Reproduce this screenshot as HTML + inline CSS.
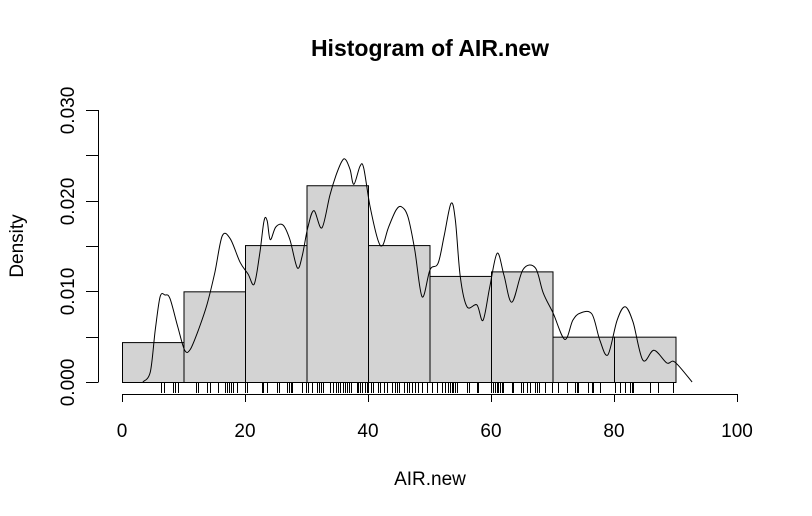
<!DOCTYPE html>
<html><head><meta charset="utf-8"><style>
html,body{margin:0;padding:0;background:#fff}
svg{display:block;font-family:"Liberation Sans",Arial,sans-serif}
</style></head><body>
<svg id="chart" width="812" height="516" viewBox="0 0 812 516">
<text x="430" y="56" text-anchor="middle" font-size="23" font-weight="bold">Histogram of AIR.new</text>
<text x="430" y="485" text-anchor="middle" font-size="19">AIR.new</text>
<text transform="translate(23,246) rotate(-90)" text-anchor="middle" font-size="19">Density</text>
<g id="bars"></g>
<g id="rug"></g>
<path id="dens" fill="none" stroke="#000" stroke-width="1"></path>
<g id="axes"></g>
</svg>
<script>
const binEdges=[0,10,20,30,40,50,60,70,80,90];
const binDensity=[0.0044,0.0100,0.0151,0.0217,0.0151,0.0117,0.0122,0.0050,0.0050];
const xTicks=[0,20,40,60,80,100];
const yTicks=[0,0.005,0.010,0.015,0.020,0.025,0.030];
const yTickLabels=["0.000","","0.010","","0.020","","0.030"];
const densX=[3.4,4.6,5.4,6.2,7.0,7.8,9.1,10.2,11.1,12.4,13.8,15.1,16.3,17.6,19.2,20.5,21.5,22.4,23.1,23.6,24.1,25.0,26.2,27.3,28.5,29.3,30.2,31.2,32.5,33.8,34.8,35.8,36.4,37.1,37.7,38.7,39.3,40.3,41.6,42.4,43.3,44.6,45.5,46.5,47.6,48.8,50.1,51.4,52.4,53.5,54.2,55.0,56.1,57.7,58.7,59.8,61.0,62.1,63.4,65.2,67.2,68.5,70.1,72.0,73.3,74.5,76.4,77.7,79.0,80.5,81.8,83.1,84.7,86.5,88.6,89.9,92.7];
const densY=[0,.0011,.0057,.0094,.0096,.0092,.0060,.0035,.0036,.0057,.0085,.0121,.0161,.0158,.0132,.0119,.0108,.0142,.0178,.0178,.0157,.0171,.0173,.0157,.0126,.0139,.0170,.0189,.0170,.0206,.0228,.0244,.0245,.0234,.0218,.0238,.0236,.0195,.0157,.0151,.0170,.0190,.0193,.0182,.0146,.0094,.0124,.0131,.0162,.0197,.0179,.0116,.0083,.0085,.0068,.0105,.0142,.0118,.0088,.0124,.0126,.0098,.0076,.0047,.0068,.0076,.0075,.0046,.0030,.0068,.0083,.0066,.0024,.0035,.0021,.0022,0];
const rugX=[6.3,6.8,8.3,8.6,9.1,12.0,12.4,13.8,14.3,15.6,16.7,17.1,17.4,17.7,18.0,18.7,20.0,20.3,22.8,22.9,23.6,25.2,25.5,26.8,27.2,27.5,27.6,29.3,29.9,30.2,30.9,31.7,32.0,32.4,32.7,33.8,34.3,34.8,35.1,35.4,35.9,36.3,36.6,36.9,37.2,38.2,38.4,38.7,39.0,39.5,39.8,40.0,40.5,40.8,41.6,42.0,42.6,43.1,43.9,44.4,44.7,45.0,45.9,46.3,46.7,47.2,47.6,48.1,48.8,49.6,50.4,51.2,52.0,52.5,53.0,53.3,53.7,53.8,54.1,54.5,56.1,56.4,57.7,57.9,60.0,60.3,60.7,61.0,61.1,61.5,61.8,62.0,63.4,63.6,64.9,65.2,65.9,66.3,67.2,67.5,67.8,68.8,69.9,70.9,72.4,73.7,74.0,74.1,75.8,76.4,76.6,77.7,80.2,81.0,81.8,82.6,82.9,83.1,85.9,87.2,89.6];

const NS="http://www.w3.org/2000/svg";
const sx=v=>122+v*6.15;
const sy=v=>382-v*9067;
function mk(tag,parent,attrs){const e=document.createElementNS(NS,tag);for(const k in attrs)e.setAttribute(k,attrs[k]);parent.appendChild(e);return e;}
const bars=document.getElementById('bars');
binDensity.forEach((d,i)=>{
  const r=mk('rect',bars,{x:sx(binEdges[i])+0.5,y:sy(d)+0.5,width:sx(binEdges[i+1])-sx(binEdges[i]),height:sy(0)-sy(d),fill:'#d3d3d3',stroke:'#000','stroke-width':1});
  
  
});
const rug=document.getElementById('rug');
rugX.forEach(v=>{
  const l=mk('line',rug,{x1:Math.round(sx(v))+0.5,x2:Math.round(sx(v))+0.5,y1:383,y2:393,stroke:'#000','stroke-width':1});
  
  
});
// smooth Catmull-Rom path through density points
const P=densX.map((x,i)=>[sx(x),sy(densY[i])]);
let d='M'+P[0][0].toFixed(1)+','+P[0][1].toFixed(1);
for(let i=0;i<P.length-1;i++){
  const p0=P[Math.max(0,i-1)],p1=P[i],p2=P[i+1],p3=P[Math.min(P.length-1,i+2)];
  const c1=[p1[0]+(p2[0]-p0[0])/6,p1[1]+(p2[1]-p0[1])/6];
  const c2=[p2[0]-(p3[0]-p1[0])/6,p2[1]-(p3[1]-p1[1])/6];
  d+=' C'+c1[0].toFixed(1)+','+c1[1].toFixed(1)+' '+c2[0].toFixed(1)+','+c2[1].toFixed(1)+' '+p2[0].toFixed(1)+','+p2[1].toFixed(1);
}
document.getElementById('dens').setAttribute('d',d);
const ax=document.getElementById('axes');
mk('line',ax,{x1:sx(0),x2:sx(100),y1:394.5,y2:394.5,stroke:'#000'});
xTicks.forEach(t=>{
  mk('line',ax,{x1:sx(t)+0.5,x2:sx(t)+0.5,y1:394,y2:402,stroke:'#000'});
  const tx=mk('text',ax,{x:sx(t),y:437,'text-anchor':'middle','font-size':19});
  tx.textContent=t;
  
  
});
mk('line',ax,{x1:98.5,x2:98.5,y1:sy(0),y2:sy(0.030),stroke:'#000'});
yTicks.forEach((t,i)=>{
  const y=Math.round(sy(t))+0.5;
  mk('line',ax,{x1:86,x2:98.5,y1:y,y2:y,stroke:'#000'});
  if(yTickLabels[i]){
    const tx=mk('text',ax,{transform:'translate(74,'+y+') rotate(-90)','text-anchor':'middle','font-size':19});
    tx.textContent=yTickLabels[i];
    
    
  }
});
</script>
</body></html>
